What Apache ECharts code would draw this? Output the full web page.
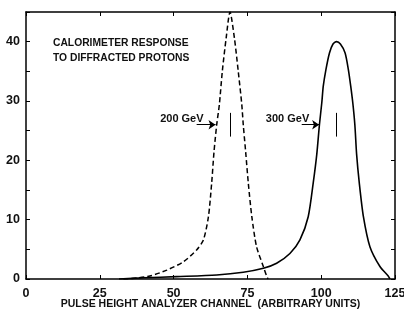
<!DOCTYPE html>
<html>
<head>
<meta charset="utf-8">
<script src="https://cdn.jsdelivr.net/npm/echarts@6/dist/echarts.min.js"></script>
<style>
  html, body { margin: 0; padding: 0; background: #fff; }
  #chart { width: 404px; height: 314px; }
</style>
</head>
<body>
<div id="chart"></div>
<script>
  // 200 GeV (dashed)
  var x200 = [33, 38, 42, 47.7, 53.3, 57.8, 60.1, 61.8, 62.9, 63.7, 64.6, 65.5, 66.5, 67.8, 69.1, 70.6, 71.9, 73.1, 73.6, 74.4, 75.3, 76.5, 78.1, 80.4, 81.5, 82];
  var y200 = [0, 0.2, 0.5, 1.5, 2.9, 4.9, 6.6, 10.5, 16.2, 21.5, 26, 29.4, 35, 40.6, 45, 40.6, 35, 29.4, 26, 21.5, 16.2, 10.5, 5.45, 2.1, 0.5, 0];
  // 300 GeV (solid)
  var x300 = [31.5, 40, 51, 64.6, 73.6, 80.4, 84.9, 89.4, 92.8, 95.6, 97.3, 98.5, 99.4, 100.2, 100.7, 101.6, 102.8, 104, 105.2, 106.5, 108.1, 109.2, 110, 110.7, 111.4, 112, 112.9, 114.3, 116.5, 119.9, 122.7, 123.3];
  var y300 = [0, 0.2, 0.4, 0.67, 1.13, 1.8, 2.65, 4.3, 6.6, 10.5, 16.2, 21, 26, 29.7, 32.5, 35.3, 38.1, 39.6, 40, 39.6, 38.1, 35.3, 32.5, 29.7, 26, 21, 16.2, 10.5, 5.45, 2.1, 0.5, 0];
  var xTicks = [0, 25, 50, 75, 100, 125];
  var yTicks = [0, 10, 20, 30, 40];

  var font = 'Liberation Sans';

  function pairs(xs, ys) {
    return xs.map(function (v, i) { return [v, ys[i]]; });
  }

  var chart = echarts.init(document.getElementById('chart'));

  var axisLine = {show: true, onZero: false, lineStyle: {color: '#000', width: 1.5}};
  var tick = {show: true, inside: true, length: 4, lineStyle: {color: '#000', width: 1}};
  var labelStyle = {color: '#111', fontFamily: font, fontWeight: 'bold', fontSize: 11};

  var option = {
    backgroundColor: '#fff',
    animation: false,
    title: {
      text: 'CALORIMETER RESPONSE\nTO DIFFRACTED PROTONS',
      left: 48, top: 31,
      textStyle: {fontFamily: font, fontWeight: 'bold', fontSize: 10.3, lineHeight: 15, color: '#111'}
    },
    grid: {left: 26, right: 9, top: 12, bottom: 35, outerBoundsMode: 'none'},
    xAxis: [
      {
        type: 'value', min: 0, max: 125, interval: 25,
        axisLine: axisLine, axisTick: tick, splitLine: {show: false},
        axisLabel: {color: '#111', fontFamily: font, fontWeight: 'bold', fontSize: 12.5, margin: 8,
          formatter: function (v) { return xTicks.indexOf(v) >= 0 ? v : ''; }},
        name: 'PULSE HEIGHT ANALYZER CHANNEL  (ARBITRARY UNITS)',
        nameLocation: 'middle', nameGap: 25, nameMoveOverlap: false,
        nameTextStyle: {color: '#111', fontFamily: font, fontWeight: 'bold', fontSize: 10.5, verticalAlign: 'middle'}
      },
      {
        type: 'value', position: 'top', min: 0, max: 125, interval: 25,
        axisLine: axisLine, axisTick: tick, axisLabel: {show: false}, splitLine: {show: false}
      }
    ],
    yAxis: [
      {
        type: 'value', min: 0, max: 45, interval: 5,
        axisLine: axisLine, axisTick: tick, splitLine: {show: false},
        axisLabel: {color: '#111', fontFamily: font, fontWeight: 'bold', fontSize: 12.5, margin: 6,
          formatter: function (v) { return yTicks.indexOf(v) >= 0 ? v : ''; }}
      },
      {
        type: 'value', position: 'right', min: 0, max: 45, interval: 5,
        axisLine: axisLine, axisTick: tick, axisLabel: {show: false}, splitLine: {show: false}
      }
    ],
    series: [
      {
        name: '200 GeV', type: 'line', smooth: 0.25, symbol: 'none',
        data: pairs(x200, y200),
        lineStyle: {color: '#000', width: 1.5, type: [5, 3]},
        markLine: {
          silent: true, symbol: ['none', 'arrow'], symbolSize: 7,
          lineStyle: {color: '#000', width: 1, type: 'solid'},
          label: {show: false},
          data: [
            [{coord: [57.8, 26]}, {coord: [64.2, 26]}],
            [{coord: [69.3, 24], symbol: 'none'}, {coord: [69.3, 28], symbol: 'none'}]
          ]
        },
        markPoint: {
          silent: true, symbol: 'circle', symbolSize: 0,
          label: Object.assign({show: true, position: 'inside'}, labelStyle),
          data: [{coord: [52.8, 27.0], value: '200 GeV'}]
        }
      },
      {
        name: '300 GeV', type: 'line', smooth: 0.25, symbol: 'none',
        data: pairs(x300, y300),
        lineStyle: {color: '#000', width: 1.6, type: 'solid'},
        markLine: {
          silent: true, symbol: ['none', 'arrow'], symbolSize: 7,
          lineStyle: {color: '#000', width: 1, type: 'solid'},
          label: {show: false},
          data: [
            [{coord: [93.4, 26]}, {coord: [99.3, 26]}],
            [{coord: [105.2, 24], symbol: 'none'}, {coord: [105.2, 28], symbol: 'none'}]
          ]
        },
        markPoint: {
          silent: true, symbol: 'circle', symbolSize: 0,
          label: Object.assign({show: true, position: 'inside'}, labelStyle),
          data: [{coord: [88.6, 27.0], value: '300 GeV'}]
        }
      }
    ]
  };

  chart.setOption(option);
  window.addEventListener('resize', function () {
    chart.resize();
  });
</script>
</body>
</html>
